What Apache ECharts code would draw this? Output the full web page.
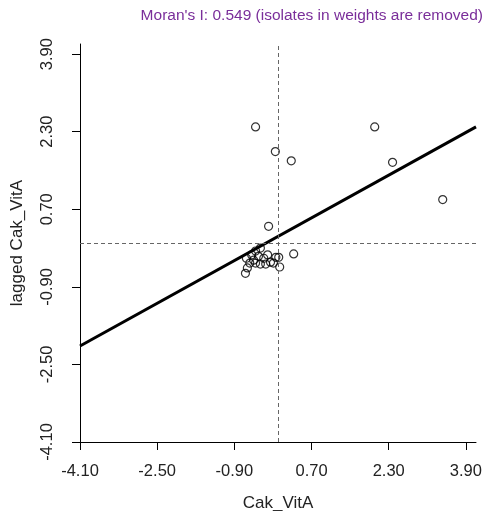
<!DOCTYPE html>
<html>
<head>
<meta charset="utf-8">
<script src="https://cdn.jsdelivr.net/npm/echarts@6/dist/echarts.min.js"></script>
<style>html,body{margin:0;padding:0;background:#fff;}#c{width:490px;height:511px;}</style>
</head>
<body>
<div id="c"></div>
<script>
// Data
const titleText = "Moran's I: 0.549 (isolates in weights are removed)";
const xName = "Cak_VitA";
const yName = "lagged Cak_VitA";
const tickValues = [-4.1, -2.5, -0.9, 0.7, 2.3, 3.9];
const ptsX = [-0.46, -0.05, 0.28, 2.01, 2.38, 3.42, -0.19, 0.33,
  -0.67, -0.63, -0.58, -0.65, -0.54, -0.46, -0.36, -0.40, -0.29, -0.21,
  -0.15, -0.25, -0.36, -0.46, -0.04, 0.02, 0.04, -0.09, -0.50];
const ptsY = [2.40, 1.89, 1.70, 2.40, 1.67, 0.90, 0.35, -0.22,
  -0.62, -0.51, -0.41, -0.31, -0.24, -0.16, -0.10, -0.27, -0.31, -0.24,
  -0.39, -0.43, -0.43, -0.41, -0.29, -0.29, -0.49, -0.41, -0.35];
const fitX = [-4.1, 4.11];
const fitY = [-2.12, 2.40];
const meanX = [0];
const meanY = [0];

const chart = echarts.init(document.getElementById('c'), null, {renderer: 'canvas'});
const font = 'Liberation Sans, Arial, sans-serif';
const axisCommon = {
  type: 'value', min: -4.1, max: 4.11,
  splitLine: {show: false},
  axisLine: {show: true, onZero: false, lineStyle: {color: '#000', width: 1}},
  axisTick: {show: true, length: 8, customValues: tickValues, lineStyle: {color: '#000', width: 1}},
  axisLabel: {show: true, customValues: tickValues, color: '#222', fontFamily: font, fontSize: 16.5,
    formatter: v => Number(v).toFixed(2)},
  nameLocation: 'middle',
  nameTextStyle: {color: '#222', fontFamily: font, fontSize: 17}
};
chart.setOption({
  animation: false,
  backgroundColor: '#fff',
  title: {
    text: titleText, right: 2, top: 3,
    textStyle: {color: '#7A2E9A', fontFamily: font, fontSize: 15.5, fontWeight: 'normal'}
  },
  grid: {left: 80, right: 14, top: 44, bottom: 69, containLabel: false, outerBoundsMode: 'none'},
  xAxis: Object.assign({}, axisCommon, {
    name: xName, nameGap: 53,
    axisLabel: Object.assign({}, axisCommon.axisLabel, {margin: 21})
  }),
  yAxis: Object.assign({}, axisCommon, {
    name: yName, nameGap: 54, nameRotate: 90,
    axisLabel: Object.assign({}, axisCommon.axisLabel, {margin: 24, rotate: 90})
  }),
  series: [
    {
      type: 'scatter',
      data: ptsX.map((x, i) => [x, ptsY[i]]),
      symbol: 'circle', symbolSize: 8,
      itemStyle: {color: 'rgba(0,0,0,0)', borderColor: '#000', borderWidth: 1.2},
      markLine: {
        silent: true, symbol: 'none', label: {show: false},
        lineStyle: {color: '#666', type: [4, 3], width: 1},
        data: [{xAxis: meanX[0]}, {yAxis: meanY[0]}]
      },
      z: 2
    },
    {
      type: 'line',
      data: fitX.map((x, i) => [x, fitY[i]]),
      symbol: 'none',
      lineStyle: {color: '#000', width: 3},
      z: 3
    }
  ]
});
</script>
</body>
</html>
